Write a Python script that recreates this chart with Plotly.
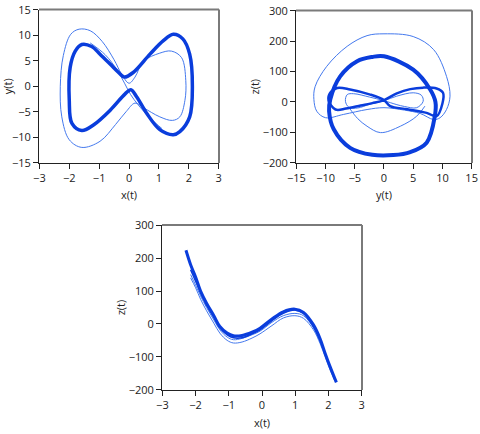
import plotly.graph_objects as go

# tick values of the three plots
x_ticks = [-3, -2, -1, 0, 1, 2, 3]
y_ticks = [-15, -10, -5, 0, 5, 10, 15]
z_ticks = [-200, -100, 0, 100, 200, 300]

# x(t) vs y(t): thick band loop, thin outer/inner loop, thin crossing strand
xy_band_x = [-0.15, 0.14, 0.7, 1.14, 1.48, 1.8, 2.03, 2.12, 2.03, 1.7, 1.48, 1.03, 0.59, 0.26,
             0.06, -0.13, -0.63, -1.19, -1.58, -1.91, -2.0, -1.97, -1.8, -1.58, -1.25, -0.97,
             -0.52, -0.24, -0.15]
xy_band_y = [1.8, 2.7, 6.3, 8.9, 10.2, 9.3, 6.3, 0, -6.0, -8.9, -9.5, -8.5, -5.3, -2.1,
             -0.7, -1.5, -4.7, -7.6, -8.7, -7.3, -2.7, 3.7, 6.9, 8.2, 7.8, 6.3,
             3.7, 2.1, 1.8]
xy_loop_x = [0.0, 0.2, 0.48, 1.03, 1.42, 1.76, 1.9, 1.87, 1.7, 1.45, 1.03, 0.48, 0.2, -0.1,
             -0.45, -0.97, -1.58, -2.0, -2.25, -2.3, -2.2, -1.95, -1.67, -1.3, -0.9, -0.5,
             -0.25, 0.0]
xy_loop_y = [0.6, 1.8, 4.9, 6.5, 6.9, 5.6, 1.1, -2.8, -6.0, -6.7, -6.0, -4.2, -3.3, -5.0,
             -7.5, -10.8, -12.0, -10.5, -6.0, 0.0, 6.0, 10.2, 11.2, 10.9, 8.8, 5.2,
             2.4, 0.6]
xy_cross_x = [-1.3, -0.8, -0.4, -0.15, 0.05, 0.3, 0.7, 1.1]
xy_cross_y = [8.5, 6.2, 3.2, 0.6, -1.6, -3.6, -6.2, -8.3]

# y(t) vs z(t)
yz_ring_y = [0, 5.0, 7.9, 8.8, 8.7, 7.3, 4.5, 1.6, -2.0, -5.8, -8.6, -9.4, -9.2, -7.5, -4.6, -2.0, 0]
yz_ring_z = [150, 106, 41, 0, -47, -134, -165, -175, -174, -151, -90, -30, 8, 84, 134, 148, 150]
yz_eight_y = [0, -2.5, -5.8, -8.0, -9.2, -9.5, -8.3, -6.5, -4.0, -2.0, 0, 2.2, 4.5, 6.7,
              9.0, 10.1, 10.0, 9.0, 7.3, 4.0, 1.06, 0]
yz_eight_z = [6, 25, 41, 46, 30, 5, -25, -22, -12, -4, 6, 28, 42, 47,
              44, 30, -5, -47, -36, -24, -14, 6]
yz_arch_y = [9.6, 10.7, 11.3, 10.7, 8.5, 5.0, 0, -2.9, -6.3, -9.8, -11.8, -12.0, -11.5, -10.0,
             -6.9, -2.9, 0, 3.5, 6.2, 8.5, 9.6]
yz_arch_z = [-52, -25, 19, 84, 172, 215, 224, 218, 183, 117, 50, 8, -31, -52,
             -41, -25, -19, -27, -38, -58, -52]
yz_small_y = [0, -2.5, -5.2, -6.3, -6.6, -6.0, -4.5, -2.5, 0, 2.2, 5.0, 6.4, 6.7, 5.6, 3.5, 2.2, 0]
yz_small_z = [4, 16, 27, 24, 2, -18, -20, -8, 4, 19, 30, 22, 2, -19, -15, -9, 4]
yz_low_y = [-6.0, -4.5, -2.9, -0.6, 2.8, 5.6, 7.0]
yz_low_z = [-18, -55, -80, -101, -80, -47, -14]

# x(t) vs z(t)
xz_x = [-2.29, -2.15, -2.0, -1.85, -1.67, -1.45, -1.27, -1.05, -0.86, -0.6, -0.3, -0.06,
        0.3, 0.64, 0.99, 1.25, 1.55, 1.75, 1.9, 2.05, 2.24]
xz_z_main = [224, 180, 143, 100, 63, 25, -8, -28, -36, -35, -25, -13,
             15, 37, 45, 35, -3, -45, -89, -130, -178]
xz_x_b = [-2.15, -2.0, -1.85, -1.67, -1.45, -1.27, -1.05, -0.86, -0.6, -0.3, -0.06,
          0.3, 0.64, 0.99, 1.25, 1.55, 1.75, 1.9, 2.05, 2.2]
xz_z_b = [165, 130, 95, 57, 20, -12, -33, -42, -42, -30, -18, 10, 32, 42, 32, -8, -50, -92, -132, -170]
xz_z_c = [150, 118, 85, 50, 12, -18, -40, -48, -44, -33, -22, 5, 25, 32, 25, -12, -55, -95, -135, -170]
xz_z_d = [140, 110, 75, 40, 2, -28, -50, -58, -55, -43, -30, -5, 18, 25, 17, -18, -60, -100, -140, -175]

THICK = "#0a3ddc"
THIN = "#4479ee"

# plot areas in paper coords of the 480x434 page
DOM = {
    "": ([0.0813, 0.4563], [0.6244, 0.9781]),
    "2": ([0.6167, 0.9833], [0.6244, 0.9760]),
    "3": ([0.3375, 0.7542], [0.1014, 0.4816]),
}


def line(x, y, ax, color, width):
    return go.Scatter(x=x, y=y, xaxis="x" + ax, yaxis="y" + ax, mode="lines",
                      line=dict(color=color, width=width, shape="spline", smoothing=1.0),
                      showlegend=False, hoverinfo="skip")


fig = go.Figure()
fig.add_trace(line(xy_loop_x, xy_loop_y, "", THIN, 1))
fig.add_trace(line(xy_cross_x, xy_cross_y, "", THIN, 1))
fig.add_trace(line(xy_band_x, xy_band_y, "", THICK, 3.5))

fig.add_trace(line(yz_arch_y, yz_arch_z, "2", THIN, 1))
fig.add_trace(line(yz_small_y, yz_small_z, "2", THIN, 1))
fig.add_trace(line(yz_low_y, yz_low_z, "2", THIN, 1))
fig.add_trace(line(yz_eight_y, yz_eight_z, "2", THICK, 2.5))
fig.add_trace(line(yz_ring_y, yz_ring_z, "2", THICK, 4))

fig.add_trace(line(xz_x_b, xz_z_d, "3", THIN, 1))
fig.add_trace(line(xz_x_b, xz_z_c, "3", THIN, 1))
fig.add_trace(line(xz_x_b, xz_z_b, "3", THICK, 1.5))
fig.add_trace(line(xz_x, xz_z_main, "3", THICK, 3))

font = dict(family="Open Sans, DejaVu Sans, sans-serif", size=11, color="#222")


def axis(domain, ticks, title, anchor, standoff):
    pad = (ticks[-1] - ticks[0]) * 0.002
    return dict(domain=domain, range=[ticks[0] - pad, ticks[-1] + pad],
                tickmode="array", tickvals=ticks, anchor=anchor, automargin=False,
                showgrid=False, zeroline=False, showline=True, linecolor="#222",
                linewidth=1, ticks="outside", ticklen=5, tickcolor="#222",
                tickfont=font, title=dict(text=title, font=font, standoff=standoff))


fig.update_layout(
    width=480, height=434,
    margin=dict(l=0, r=0, t=0, b=0),
    paper_bgcolor="white", plot_bgcolor="white",
    xaxis=axis(DOM[""][0], x_ticks, "x(t)", "y", 7),
    yaxis=axis(DOM[""][1], y_ticks, "y(t)", "x", 6),
    xaxis2=axis(DOM["2"][0], y_ticks, "y(t)", "y2", 7),
    yaxis2=axis(DOM["2"][1], z_ticks, "z(t)", "x2", 0),
    xaxis3=axis(DOM["3"][0], x_ticks, "x(t)", "y3", 8),
    yaxis3=axis(DOM["3"][1], z_ticks, "z(t)", "x3", 0),
)

# grey top/right edges of each plot frame
for ax, (dx, dy) in DOM.items():
    fig.add_shape(type="line", xref="paper", yref="paper",
                  x0=dx[0], x1=dx[1], y0=dy[1], y1=dy[1], line=dict(color="#7a7a7a", width=2))
    fig.add_shape(type="line", xref="paper", yref="paper",
                  x0=dx[1], x1=dx[1], y0=dy[0], y1=dy[1], line=dict(color="#7a7a7a", width=2))

# drop the default page margin so the 480x434 figure fills the window
fig.write_html("out.html", config={"displayModeBar": False},
               post_script="document.body.style.margin = '0';")
